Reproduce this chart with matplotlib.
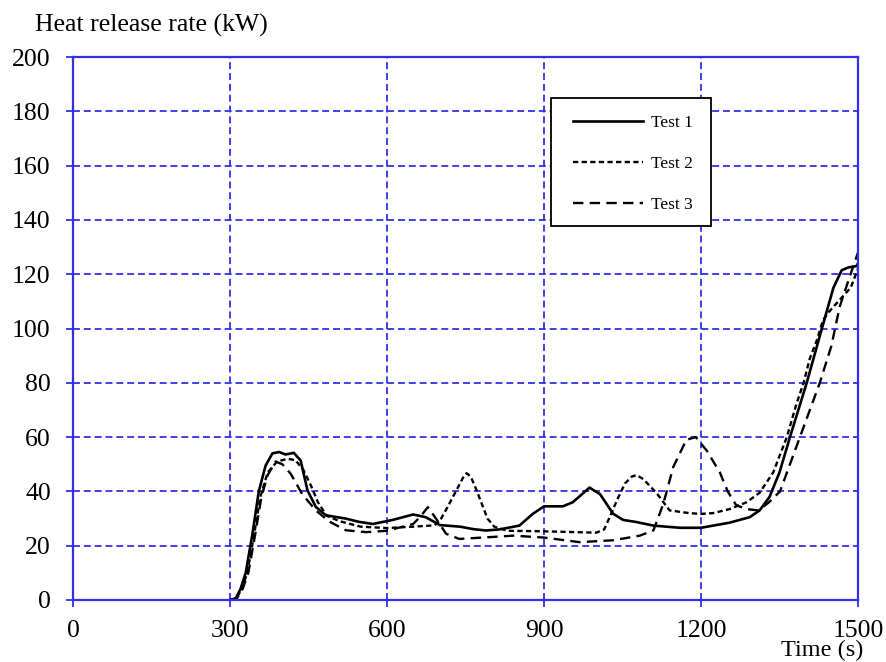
import matplotlib
matplotlib.use("Agg")
import matplotlib.pyplot as plt
from matplotlib.patches import Rectangle

plt.rcParams['font.family'] = ['Liberation Serif', 'DejaVu Serif']
plt.rcParams['lines.scale_dashes'] = False

# Test 1 (solid)
t1 = [300, 311, 320, 330, 343, 355, 368, 381, 394, 406, 422, 435, 448, 464, 483, 521, 546,
      573, 611, 650, 674, 701, 740, 765, 789, 815, 853, 879, 900, 936, 955, 987, 1007, 1032,
      1051, 1077, 1109, 1160, 1200, 1255, 1293, 1312, 1331, 1350, 1370, 1402, 1431, 1453,
      1469, 1482, 1497, 1500]
v1 = [0, 0.6, 4, 10, 24.5, 40, 49.5, 54, 54.5, 53.6, 54.2, 51.4, 40.4, 34.3, 31.2, 30, 28.8,
      28, 29.5, 31.5, 30.5, 27.6, 27, 26.1, 25.6, 26, 27.4, 31.8, 34.5, 34.5, 36, 41.4, 39, 31.8,
      29.5, 28.7, 27.4, 26.6, 26.6, 28.5, 30.5, 33, 38, 47, 60, 80, 100, 115,
      121.5, 122.5, 123, 124]

# Test 2 (short dashes)
t2 = [300, 312, 322, 333, 346, 358, 372, 390, 410, 425, 440, 455, 468, 485, 510, 550, 600,
      650, 690, 700, 715, 733, 745, 752, 760, 771, 780, 792, 805, 830, 900, 960, 1000, 1015,
      1026, 1040, 1055, 1068, 1077, 1090, 1115, 1140, 1178, 1200, 1223, 1255, 1287, 1312,
      1338, 1364, 1382, 1396, 1408, 1422, 1433, 1444, 1467, 1486, 1500]
v2 = [0, 0.5, 4, 10, 24, 38, 47, 51, 52, 51.5, 48, 42, 36, 31, 29, 27, 26.5,
      27, 27.5, 28.8, 34, 40.5, 45, 46.7, 45.5, 40.5, 36, 30, 27, 25.5, 25.3, 25, 24.8, 26,
      30.7, 37, 43, 45.5, 46, 44.5, 39.4, 33, 32, 31.7, 32, 33.5, 36, 39.5,
      47, 60, 72, 80, 89, 96, 103, 106, 111, 115, 122]

# Test 3 (long dashes)
t3 = [300, 313, 324, 335, 348, 360, 372, 387, 400, 416, 438, 464, 489, 521, 560, 600, 630,
      650, 665, 678, 690, 713, 738, 783, 841, 900, 968, 1032, 1083, 1109, 1128, 1147, 1172,
      1190, 1211, 1236, 1251, 1267, 1286, 1310, 1330, 1351, 1370, 1389, 1408, 1427, 1449,
      1465, 1484, 1500]
v3 = [0, 0.5, 4, 10, 24, 38, 46, 51, 50, 46.5, 39, 33, 29, 25.7, 25, 25.5, 27,
      28, 31, 34.2, 31, 24.4, 22.5, 23, 23.7, 23, 21.3, 22, 23.7, 25.6, 35.4, 49, 59,
      60, 55, 47, 40, 35, 33.5, 33, 36, 40, 50, 60, 70, 80, 93.5,
      108, 119, 128]

xticks = [0, 300, 600, 900, 1200, 1500]
yticks = [0, 20, 40, 60, 80, 100, 120, 140, 160, 180, 200]

blue = '#3030E6'

fig = plt.figure(figsize=(8.86, 6.62), dpi=100)
ax = fig.add_axes([73 / 886, 1 - 600 / 662, 785 / 886, 543 / 662])

ax.plot(t1, v1, color='black', lw=1.9, ls='-', label='Test 1')
ax.plot(t2, v2, color='black', lw=1.7, dashes=(3.8, 2.4), label='Test 2')
ax.plot(t3, v3, color='black', lw=1.7, dashes=(7.5, 4.5), label='Test 3')

ax.set_xlim(0, 1500)
ax.set_ylim(0, 200)
ax.set_xticks(xticks)
ax.set_yticks(yticks)
ax.grid(True, color=blue, ls=(0, (5, 2.8)), lw=1.3)
for s in ax.spines.values():
    s.set_color(blue)
    s.set_linewidth(1.6)
ax.tick_params(direction='out', length=5, width=1.3, color=blue,
               labelsize=18.5, pad=11)
ax.tick_params(axis='x', pad=9.5)

fig.text(35 / 886, 1 - 25 / 662, 'Heat release rate (kW)', fontsize=18.5,
         ha='left', va='center')
fig.text(822 / 886, 1 - 656 / 662, 'Time (s)', fontsize=17.5,
         ha='center', va='baseline')

# legend box drawn by hand (wider side padding than the default frame)
box = Rectangle((0.609, 0.689), 0.204, 0.2355, transform=ax.transAxes,
                facecolor='white', edgecolor='black', lw=1.3, zorder=4)
ax.add_patch(box)
leg = ax.legend(loc='upper left', bbox_to_anchor=(0.6153, 0.926), fontsize=12.5,
                frameon=False, handlelength=4.0, handletextpad=0.45,
                labelspacing=1.45, borderpad=1.0, borderaxespad=0)
leg.set_zorder(5)

fig.savefig('out.png', dpi=100)
